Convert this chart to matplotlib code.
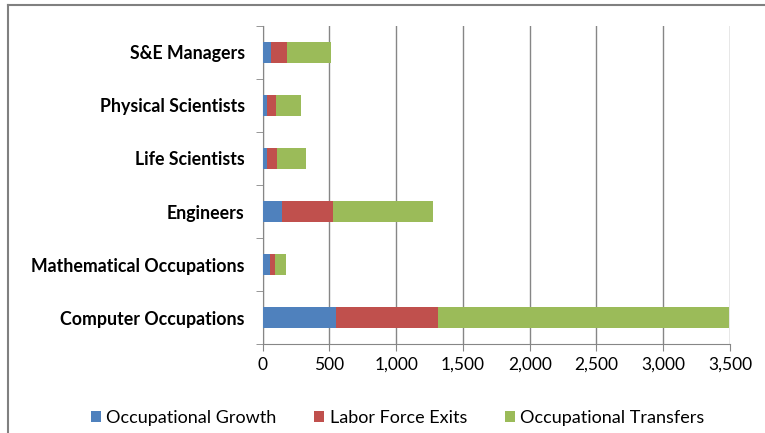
import matplotlib
matplotlib.use("Agg")
import matplotlib.pyplot as plt
from matplotlib.lines import Line2D
from matplotlib.ticker import FuncFormatter, MultipleLocator

categories = ["Computer Occupations", "Mathematical Occupations", "Engineers",
              "Life Scientists", "Physical Scientists", "S&E Managers"]
occupational_growth = [550, 55, 142, 35, 35, 62]
labor_force_exits = [760, 37, 385, 70, 65, 123]
occupational_transfers = [2180, 83, 748, 222, 185, 330]
series_names = ["Occupational Growth", "Labor Force Exits", "Occupational Transfers"]
colors = ["#4F81BD", "#C0504D", "#9BBB59"]

plt.rcParams['font.family'] = ['Lato', 'DejaVu Sans']

fig = plt.figure(figsize=(7.65, 4.33), dpi=100)
ax = fig.add_axes([0.3434, 0.2055, 0.6108, 0.7345])

y = range(len(categories))
left = [0] * len(categories)
for vals, name, c in zip([occupational_growth, labor_force_exits, occupational_transfers], series_names, colors):
    ax.barh(y, vals, left=left, height=0.38, color=c, label=name, zorder=3)
    left = [l + v for l, v in zip(left, vals)]

ax.set_xlim(0, 3500)
ax.set_ylim(-0.5, len(categories) - 0.5)
ax.xaxis.set_major_locator(MultipleLocator(500))
ax.xaxis.set_major_formatter(FuncFormatter(lambda v, p: f"{int(v):,}"))
ax.set_yticks(list(y))
ax.set_yticklabels(categories, fontweight='bold', fontsize=12.8)
ax.set_yticks([i - 0.5 for i in range(len(categories) + 1)], minor=True)
ax.tick_params(axis='y', which='major', length=0, pad=13)
ax.tick_params(axis='y', which='minor', length=5, color='#868686')
ax.tick_params(axis='x', length=5, color='#868686', labelsize=12.5, pad=4)
ax.grid(axis='x', color='#868686', linewidth=1, zorder=0)
for s in ['top', 'right']:
    ax.spines[s].set_visible(False)
for s in ['left', 'bottom']:
    ax.spines[s].set_color('#868686')

ax.legend(loc='center', bbox_to_anchor=(0.52, 1 - 418/433), bbox_transform=fig.transFigure,
          ncol=3, frameon=False, fontsize=13, handlelength=0.55, handleheight=0.55,
          columnspacing=2.1, handletextpad=0.3)

fig.add_artist(Line2D([8/765, 8/765], [0, 1 - 5/433], transform=fig.transFigure, color='#808080', lw=1.5))
fig.add_artist(Line2D([8/765, 1], [1 - 5/433, 1 - 5/433], transform=fig.transFigure, color='#808080', lw=1.5))

fig.savefig("out.png", dpi=100)
